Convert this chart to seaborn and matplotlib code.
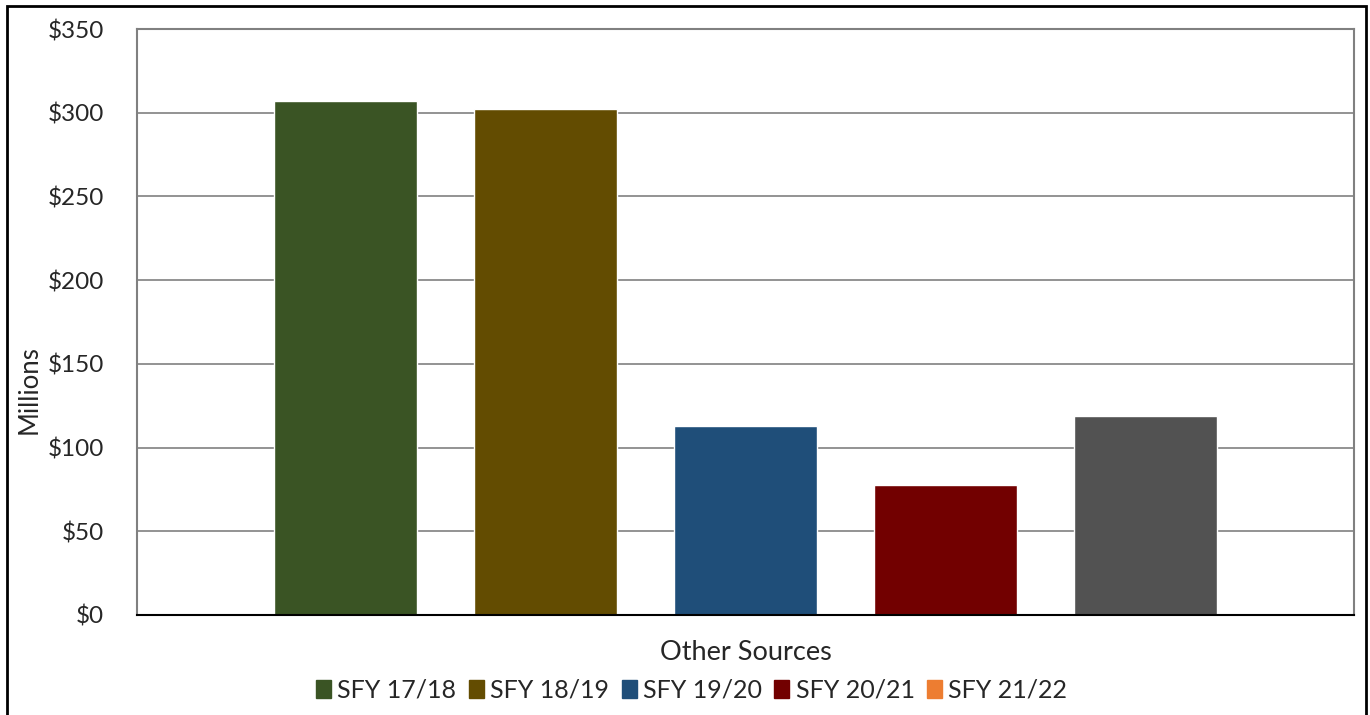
import matplotlib.pyplot as plt
import matplotlib.patches as mpatches
import seaborn as sns
import pandas as pd

# Data (millions of dollars)
category = ["Other Sources"]
years = ["SFY 17/18", "SFY 18/19", "SFY 19/20", "SFY 20/21", "SFY 21/22"]
values = [306.8, 302.0, 113.0, 77.8, 119.0]
bar_colors = ["#3A5424", "#634C01", "#1F4E79", "#720000", "#525252"]
legend_colors = ["#3A5424", "#634C01", "#1F4E79", "#720000", "#ED7D31"]
yticks = [0, 50, 100, 150, 200, 250, 300, 350]

df = pd.DataFrame({
    "Source": category * len(years),
    "Year": years,
    "Value": values,
})

sns.set_style("white")
plt.rcParams["font.family"] = ["Lato", "DejaVu Sans"]

fig = plt.figure(figsize=(13.7, 7.15), dpi=100)
ax = fig.add_axes([0.1, 0.14, 0.8883, 0.8194])

sns.barplot(data=df, x="Source", y="Value", hue="Year", hue_order=years,
            palette=bar_colors, width=0.822, gap=0.285, saturation=1,
            legend=False, ax=ax)

ax.set_xlim(-0.5, 0.5)
ax.set_ylim(0, 350)
ax.set_yticks(yticks)
ax.set_yticklabels([f"${v}" for v in yticks], fontsize=17.5)
ax.tick_params(axis="y", length=0, pad=24)
ax.tick_params(axis="x", labelsize=19.5, length=0, pad=18)
ax.set_xticks([-0.5, 0.5], minor=True)
ax.tick_params(axis="x", which="minor", length=6, width=1, color="black")
ax.set_xlabel("")
ax.set_ylabel("Millions", fontsize=18.5)
ax.yaxis.set_label_coords(-0.078, 0.385)

ax.grid(axis="y", color="#808080", linewidth=1.2)
ax.set_axisbelow(True)
for side in ["left", "top", "right"]:
    ax.spines[side].set_color("#808080")
    ax.spines[side].set_linewidth(1.5)
ax.spines["bottom"].set_color("black")
ax.spines["bottom"].set_linewidth(1.5)

handles = [mpatches.Patch(color=c, label=y) for c, y in zip(legend_colors, years)]
fig.legend(handles=handles, loc="center", bbox_to_anchor=(0.505, 0.035),
           ncol=5, frameon=False, fontsize=18, handlelength=0.6,
           handleheight=0.75, handletextpad=0.25, columnspacing=0.5)

# outer chart border
fig.patches.append(mpatches.Rectangle((0.005, -0.01), 0.992, 1.002,
                                      transform=fig.transFigure, fill=False,
                                      edgecolor="black", linewidth=2))

fig.savefig("out.png", dpi=100)
